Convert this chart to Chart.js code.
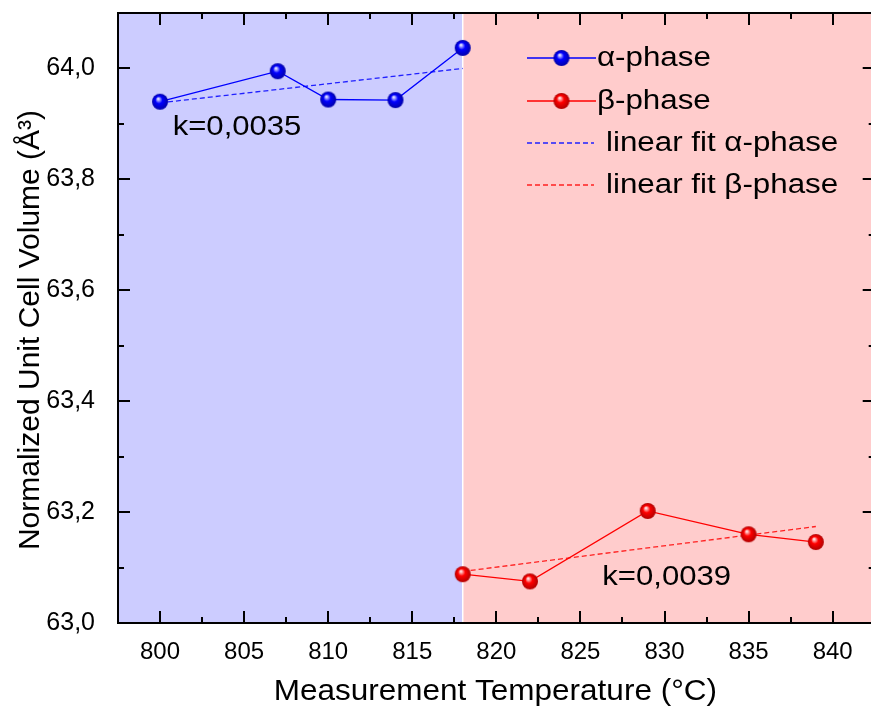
<!DOCTYPE html>
<html>
<head>
<meta charset="utf-8">
<script src="https://cdn.jsdelivr.net/npm/chart.js@4/dist/chart.umd.min.js"></script>
<style>
  html, body { margin: 0; padding: 0; background: #fff; overflow: hidden; }
  #wrap { width: 880px; height: 711px; }
</style>
</head>
<body>
<div id="wrap"><canvas id="chart" width="880" height="711"></canvas></div>
<script>
// Measured unit cell volumes (Å³) of both phases versus temperature (°C)
const alphaTemps = [800, 807, 810, 814, 818];
const alphaVolumes = [63.940, 63.995, 63.944, 63.943, 64.037];
const betaTemps = [818, 822, 829, 835, 839];
const betaVolumes = [63.088, 63.075, 63.202, 63.160, 63.146];

// Linear fit lines, given by their end points
const alphaFitTemps = [800, 818];
const alphaFitVolumes = [63.938, 64.000];
const betaFitTemps = [818, 839];
const betaFitVolumes = [63.093, 63.174];

// Fitted slopes shown on the plot
const slopeLabels = ['k=0,0035', 'k=0,0039'];
const seriesNames = ['α-phase', 'β-phase', 'linear fit α-phase', 'linear fit β-phase'];
const xTitle = 'Measurement Temperature (°C)';
const yTitle = 'Normalized Unit Cell Volume (Å³)';

// Phase boundary temperature
const transitionTemp = 818;

// Labelled tick values
const xTickValues = [800, 805, 810, 815, 820, 825, 830, 835, 840];
const yTickValues = [63.0, 63.2, 63.4, 63.6, 63.8, 64.0];

// Axis ranges and minor tick spacing
const xRange = [797.5, 842.5];
const yRange = [63.0, 64.1];
const xMinorStep = 2.5;
const yMinorStep = 0.1;

const FONT = "'Liberation Sans', Arial, Helvetica, sans-serif";

function toPoints(xs, ys) { return xs.map((x, i) => ({ x: x, y: ys[i] })); }

// Text with an optional horizontal stretch (wide label lettering)
function wideText(ctx, text, x, y, sx, rot) {
  ctx.save();
  ctx.translate(x, y);
  if (rot) ctx.rotate(rot);
  ctx.scale(sx, 1);
  ctx.fillText(text, 0, 0);
  ctx.restore();
}

// Shaded sphere marker
function sphere(main, light, dark, r) {
  const c = document.createElement('canvas');
  const s = r * 2 + 2;
  c.width = s; c.height = s;
  const g = c.getContext('2d');
  const cx = s / 2, cy = s / 2;
  const grad = g.createRadialGradient(cx - r * 0.25, cy - r * 0.4, 0, cx, cy, r);
  grad.addColorStop(0, '#ffffff');
  grad.addColorStop(0.12, light);
  grad.addColorStop(0.45, main);
  grad.addColorStop(1, dark);
  g.fillStyle = grad;
  g.beginPath();
  g.arc(cx, cy, r, 0, Math.PI * 2);
  g.fill();
  return c;
}
const blueBall = sphere('#0000ff', '#c8c8ff', '#0000a8', 8);
const redBall = sphere('#ff0000', '#ffc8c8', '#b00000', 8);

// Two coloured phase regions separated by a thin white line
const phaseBackground = {
  id: 'phaseBackground',
  beforeDatasetsDraw(chart) {
    const { ctx, chartArea: a, scales: { x } } = chart;
    const xb = x.getPixelForValue(transitionTemp);
    ctx.save();
    ctx.fillStyle = '#ccccff';
    ctx.fillRect(a.left, a.top, xb - a.left, a.bottom - a.top);
    ctx.fillStyle = '#ffcccc';
    ctx.fillRect(xb, a.top, a.right - xb, a.bottom - a.top);
    ctx.strokeStyle = '#ffffff';
    ctx.lineWidth = 1.5;
    ctx.beginPath();
    ctx.moveTo(xb, a.top);
    ctx.lineTo(xb, a.bottom);
    ctx.stroke();
    ctx.restore();
  }
};

// Closed frame with inward major and minor ticks on all four sides
const frameTicks = {
  id: 'frameTicks',
  afterDraw(chart) {
    const { ctx, chartArea: a, scales: { x, y } } = chart;
    ctx.save();
    ctx.strokeStyle = '#000';
    ctx.lineWidth = 2;
    ctx.beginPath();
    for (let v = xRange[0]; v <= xRange[1] + 1e-9; v += xMinorStep) {
      const px = Math.round(x.getPixelForValue(v));
      const major = xTickValues.some(t => Math.abs(t - v) < 1e-6);
      const len = major ? 12 : 6;
      ctx.moveTo(px, a.bottom); ctx.lineTo(px, a.bottom - len);
      ctx.moveTo(px, a.top); ctx.lineTo(px, a.top + len);
    }
    for (let v = yRange[0]; v <= yRange[1] + 1e-9; v += yMinorStep) {
      const py = Math.round(y.getPixelForValue(v));
      const major = yTickValues.some(t => Math.abs(t - v) < 1e-6);
      const len = major ? 12 : 6;
      ctx.moveTo(a.left, py); ctx.lineTo(a.left + len, py);
      ctx.moveTo(a.right, py); ctx.lineTo(a.right - len, py);
    }
    ctx.stroke();
    ctx.strokeRect(a.left, a.top, a.right - a.left, a.bottom - a.top);
    ctx.restore();
  }
};

// Axis titles
const axisTitles = {
  id: 'axisTitles',
  afterDraw(chart) {
    const { ctx, chartArea: a } = chart;
    ctx.save();
    ctx.fillStyle = '#000';
    ctx.font = '30px ' + FONT;
    ctx.textAlign = 'center';
    ctx.textBaseline = 'middle';
    wideText(ctx, xTitle, (a.left + a.right) / 2 - 1, 692, 1.05);
    wideText(ctx, yTitle, 31, (a.top + a.bottom) / 2 + 12, 1.0, -Math.PI / 2);
    ctx.restore();
  }
};

// Slope annotations, anchored in data coordinates
const slopeNotes = {
  id: 'slopeNotes',
  afterDatasetsDraw(chart) {
    const { ctx, scales: { x, y } } = chart;
    const spots = [[800.75, 63.894], [826.3, 63.083]];
    ctx.save();
    ctx.fillStyle = '#000';
    ctx.font = '28px ' + FONT;
    ctx.textAlign = 'left';
    ctx.textBaseline = 'middle';
    slopeLabels.forEach((t, i) => {
      wideText(ctx, t, x.getPixelForValue(spots[i][0]), y.getPixelForValue(spots[i][1]), 1.11);
    });
    ctx.restore();
  }
};

// Legend drawn inside the plot area
const innerLegend = {
  id: 'innerLegend',
  afterDatasetsDraw(chart) {
    const { ctx } = chart;
    const x0 = 527, x1 = 596, rowY = [58, 101, 143, 185];
    ctx.save();
    ctx.font = '27px ' + FONT;
    ctx.textBaseline = 'middle';
    ctx.fillStyle = '#000';
    chart.data.datasets.forEach((ds, i) => {
      const yy = rowY[i];
      ctx.strokeStyle = ds.borderColor;
      ctx.lineWidth = ds.borderWidth;
      ctx.setLineDash(ds.borderDash || []);
      ctx.beginPath();
      ctx.moveTo(x0, yy);
      ctx.lineTo(i < 2 ? x1 : x1 - 2, yy);
      ctx.stroke();
      ctx.setLineDash([]);
      if (i < 2) {
        const img = ds.pointStyle;
        ctx.drawImage(img, (x0 + x1) / 2 - img.width / 2, yy - img.height / 2);
      }
      wideText(ctx, ds.label, i < 2 ? x1 + 1 : 606, yy + 1, 1.16);
    });
    ctx.restore();
  }
};

function noEdgePadding(s) {
  s.paddingLeft = 0; s.paddingRight = 0; s.paddingTop = 0; s.paddingBottom = 0;
}

const chart = new Chart(document.getElementById('chart'), {
  type: 'scatter',
  data: {
    datasets: [
      {
        label: seriesNames[0],
        data: toPoints(alphaTemps, alphaVolumes),
        showLine: true,
        borderColor: '#0000ff',
        borderWidth: 1.3,
        pointStyle: blueBall,
        order: 1
      },
      {
        label: seriesNames[1],
        data: toPoints(betaTemps, betaVolumes),
        showLine: true,
        borderColor: '#ff0000',
        borderWidth: 1.3,
        pointStyle: redBall,
        order: 1
      },
      {
        label: seriesNames[2],
        data: toPoints(alphaFitTemps, alphaFitVolumes),
        showLine: true,
        borderColor: '#2020ff',
        borderWidth: 1.3,
        borderDash: [5, 3],
        pointRadius: 0,
        order: 2
      },
      {
        label: seriesNames[3],
        data: toPoints(betaFitTemps, betaFitVolumes),
        showLine: true,
        borderColor: '#ff2020',
        borderWidth: 1.3,
        borderDash: [5, 3],
        pointRadius: 0,
        order: 2
      }
    ]
  },
  options: {
    responsive: false,
    devicePixelRatio: 1,
    animation: false,
    events: [],
    layout: { padding: { left: 0, top: 13, right: 5, bottom: 0 } },
    plugins: { legend: { display: false }, tooltip: { enabled: false } },
    scales: {
      x: {
        type: 'linear',
        min: xRange[0],
        max: xRange[1],
        grid: { display: false },
        border: { display: false },
        afterBuildTicks(s) { s.ticks = xTickValues.map(v => ({ value: v })); },
        ticks: {
          autoSkip: false,
          maxRotation: 0,
          padding: 7,
          color: '#000',
          font: { family: FONT, size: 24 },
          callback: v => String(v)
        },
        title: { display: false },
        afterFit(s) { s.height = 88; noEdgePadding(s); }
      },
      y: {
        type: 'linear',
        min: yRange[0],
        max: yRange[1],
        grid: { display: false },
        border: { display: false },
        afterBuildTicks(s) { s.ticks = yTickValues.map(v => ({ value: v })); },
        ticks: {
          autoSkip: false,
          padding: 15,
          color: '#000',
          font: { family: FONT, size: 25 },
          callback: v => v.toFixed(1).replace('.', ',')
        },
        title: { display: false },
        afterFit(s) { s.width = 118; noEdgePadding(s); }
      }
    }
  },
  plugins: [phaseBackground, slopeNotes, innerLegend, frameTicks, axisTitles]
});
</script>
</body>
</html>
